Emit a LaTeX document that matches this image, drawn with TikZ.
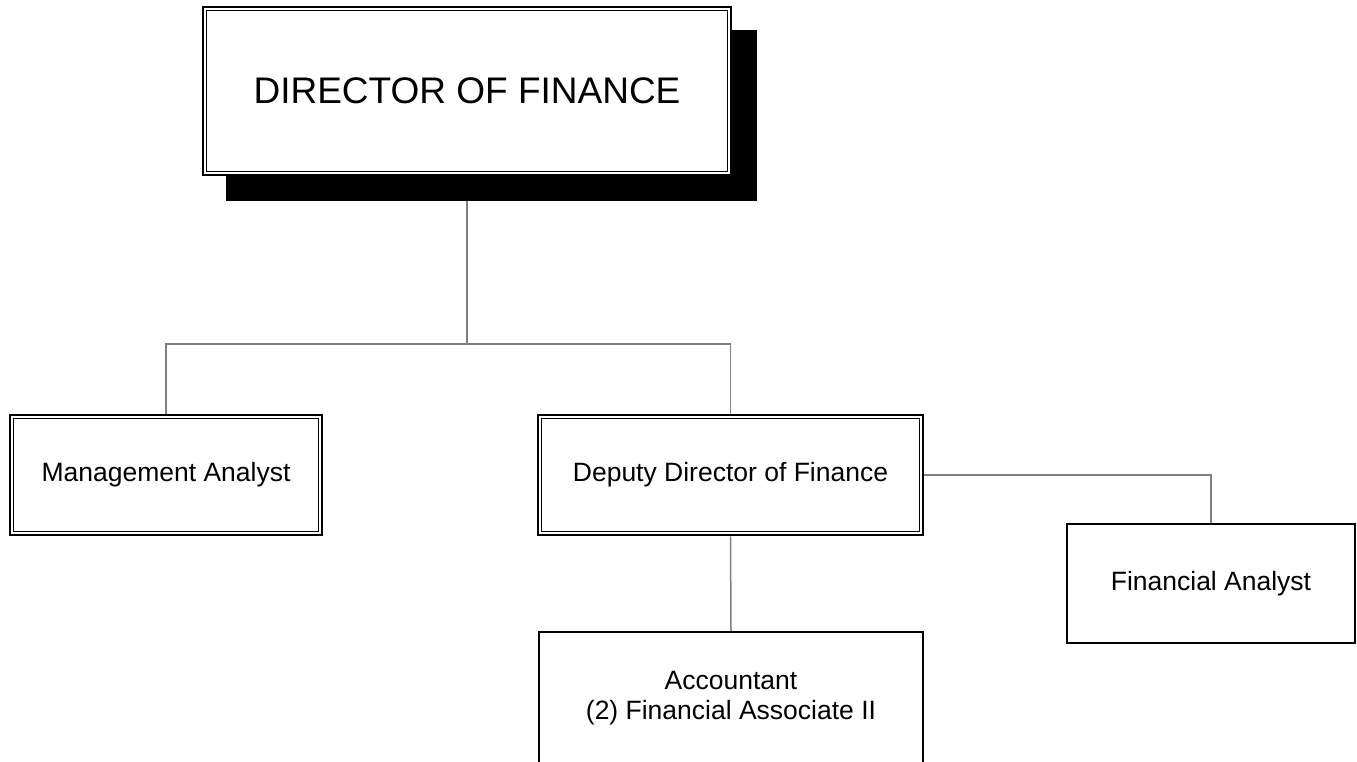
\documentclass[tikz,border=0pt]{standalone}
\usepackage{fontspec}
\setmainfont{Liberation Sans}
\usetikzlibrary{backgrounds}
\definecolor{conngray}{HTML}{7F7F7F}
\begin{document}
\begin{tikzpicture}[x=1pt,y=-1pt,
  box/.style={draw=black, line width=2.5pt, inner sep=0pt, align=center, fill=white},
  bigtext/.style={font=\fontsize{37}{44}\selectfont},
  smalltext/.style={font=\fontsize{26.5}{30}\selectfont},
  conn/.style={draw=conngray, line width=1.5pt},
  innerline/.style={draw=black, line width=1pt},
  shadowbox/.style={fill=black}]
\useasboundingbox (0,0) rectangle (1357,761);
\clip (0,0) rectangle (1357,761);
\coordinate (bus) at (467,344);
\node[box, bigtext, minimum width=528pt, minimum height=168pt] (dir) at (467,91) {DIRECTOR OF FINANCE};
\node[box, smalltext, minimum width=312pt, minimum height=120pt] (ma) at (166,475) {Management Analyst};
\node[box, smalltext, minimum width=385pt, minimum height=120pt] (dd) at (730.5,475) {Deputy Director of Finance};
\node[box, smalltext, minimum width=288pt, minimum height=119pt] (fa) at (1211,583.5) {Financial Analyst};
\node[box, smalltext, minimum width=384pt, minimum height=132pt] (acc) at (731,698) {Accountant\\(2) Financial Associate II};
\foreach \n in {dir,ma,dd}{
  \draw[innerline] ([shift={(4.5pt,-4.5pt)}]\n.north west) rectangle ([shift={(-4.5pt,4.5pt)}]\n.south east);
}
\begin{scope}[on background layer]
\draw[conn] (dir.south) -- (bus);
\draw[conn] (ma.north) -- (ma.north |- bus) -- (dd.north |- bus) -- (dd.north);
\draw[conn] (dd.east) -- (fa.north |- dd.east) -- (fa.north);
\draw[conn] (dd.south) -- (acc.north);
\fill[shadowbox] ([shift={(24pt,-24pt)}]dir.north west) rectangle ([shift={(25pt,-25pt)}]dir.south east);
\end{scope}
\end{tikzpicture}
\end{document}
